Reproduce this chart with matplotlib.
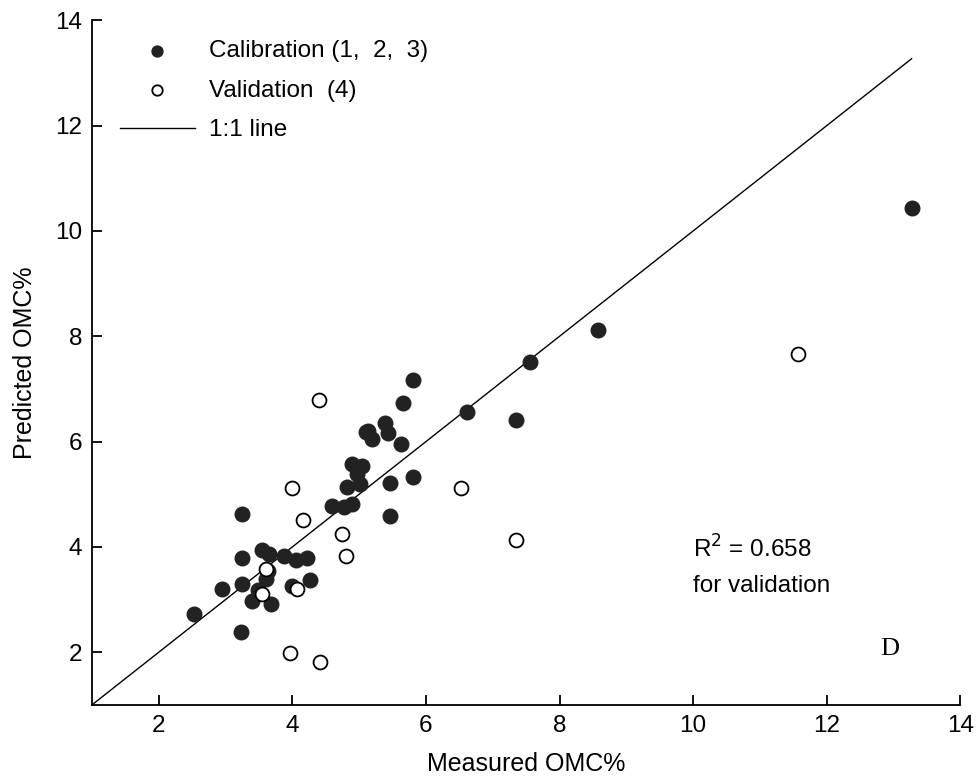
import matplotlib.pyplot as plt

plt.rcParams['font.family'] = ['Liberation Sans', 'DejaVu Sans']

# Calibration points (measured, predicted)
cal_x = [2.53, 2.95, 3.25, 3.25, 3.25, 3.23, 3.40, 3.48, 3.55, 3.65, 3.60, 3.63,
         3.68, 3.87, 4.06, 4.22, 4.00, 4.27, 4.60, 4.77, 4.90, 4.82, 5.02, 4.97,
         4.90, 5.05, 5.47, 5.80, 5.47, 5.10, 5.19, 5.13, 5.39, 5.44, 5.62, 5.65,
         5.80, 6.61, 7.35, 7.56, 8.58, 13.27]
cal_y = [2.72, 3.21, 4.62, 3.79, 3.30, 2.38, 2.97, 3.18, 3.94, 3.86, 3.39, 3.54,
         2.91, 3.83, 3.75, 3.79, 3.26, 3.37, 4.78, 4.76, 4.81, 5.13, 5.19, 5.38,
         5.57, 5.54, 5.22, 5.32, 4.59, 6.19, 6.05, 6.20, 6.36, 6.17, 5.95, 6.74,
         7.17, 6.57, 6.41, 7.52, 8.12, 10.44]

# Validation points
val_x = [3.60, 3.54, 3.97, 4.42, 4.07, 4.16, 4.75, 4.81, 4.40, 4.00, 6.53, 7.35, 11.57]
val_y = [3.58, 3.10, 1.99, 1.81, 3.21, 4.51, 4.24, 3.83, 6.79, 5.12, 5.12, 4.13, 7.67]

line_ends = [1, 13.27]
ticks = [2, 4, 6, 8, 10, 12, 14]

fs = 17.5

fig = plt.figure(figsize=(9.77, 7.79), dpi=100)
ax = fig.add_axes([0.094, 0.095, 0.889, 0.879])

ax.scatter(cal_x, cal_y, s=110, c='#222222', edgecolors='#222222', zorder=3,
           label='Calibration (1,  2,  3)')
ax.scatter(val_x, val_y, s=100, facecolors='white', edgecolors='black', linewidths=1.3,
           zorder=4, label='Validation  (4)')
ax.plot(line_ends, line_ends, color='black', linewidth=1, zorder=2, label='1:1 line')

ax.set_xlim(1, 14)
ax.set_ylim(1, 14)
ax.set_xticks(ticks)
ax.set_yticks(ticks)
ax.spines['top'].set_visible(False)
ax.spines['right'].set_visible(False)
ax.spines['left'].set_linewidth(1.3)
ax.spines['bottom'].set_linewidth(1.3)
ax.tick_params(direction='in', length=7, width=1.3, labelsize=fs, pad=7)

ax.set_xlabel('Measured OMC%', fontsize=18, labelpad=11)
ax.set_ylabel('Predicted OMC%', fontsize=18, labelpad=13)

ax.legend(loc='upper left', bbox_to_anchor=(0.0, 1.012), frameon=False, fontsize=fs,
          handlelength=3.1, handletextpad=0.55, labelspacing=0.72, markerscale=0.75,
          borderaxespad=0.75)

ax.text(10.0, 3.96, 'R$^2$ = 0.658', fontsize=fs, va='center')
ax.text(10.0, 3.26, 'for validation', fontsize=fs, va='center')
ax.text(12.94, 2.06, 'D', fontsize=19, family='Liberation Serif', ha='center', va='center')

fig.savefig('out.png')
